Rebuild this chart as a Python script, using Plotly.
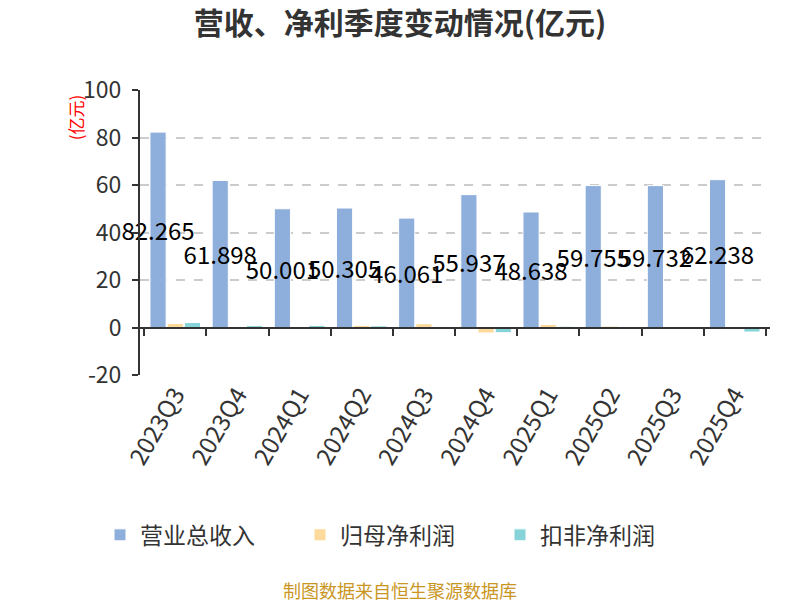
import plotly.graph_objects as go

# === data ===
quarters = ["2023Q3", "2023Q4", "2024Q1", "2024Q2", "2024Q3",
            "2024Q4", "2025Q1", "2025Q2", "2025Q3", "2025Q4"]
revenue = [82.265, 61.898, 50.001, 50.305, 46.061,
           55.937, 48.638, 59.755, 59.732, 62.238]
net_profit = [1.7, 0.4, 0.4, 0.9, 1.6, -2.3, 1.3, 0.6, 0.2, -0.7]
net_profit_deducted = [2.1, 0.8, 0.9, 0.7, 0.3, -2.2, 0.5, 0.4, 0.2, -1.9]
y_ticks = [-20, 0, 20, 40, 60, 80, 100]
y_tick_labels = ["-20", "0", "20", "40", "60", "80", "100"]

font_cn = "Noto Sans CJK SC"
center_x = (392 - 132) / 630  # 整个画布的水平中心（相对绘图区）

fig = go.Figure()

# === bars ===
fig.add_trace(go.Bar(
    x=quarters, y=revenue, name="营业总收入",
    marker=dict(color="#8eaedb", line=dict(color="#ffffff", width=1)),
    text=[f"{v:.3f}" for v in revenue],
    textposition="inside", insidetextanchor="middle", textangle=0,
    constraintext="none", cliponaxis=False,
    textfont=dict(size=24, color="#000000", family=font_cn),
))
fig.add_trace(go.Bar(
    x=quarters, y=net_profit, name="归母净利润",
    marker=dict(color="#fdd99b", line=dict(color="#ffffff", width=1)),
))
fig.add_trace(go.Bar(
    x=quarters, y=net_profit_deducted, name="扣非净利润",
    marker=dict(color="#86d4d8", line=dict(color="#ffffff", width=1)),
))

# 辅助轴：零线上的刻度
fig.add_trace(go.Scatter(
    x=quarters, y=revenue, xaxis="x2", mode="markers",
    marker=dict(opacity=0), showlegend=False, hoverinfo="skip",
))

# 页面 body 有 8px 外边距，整体向左上收 8px
fig.update_layout(
    width=800, height=600,
    paper_bgcolor="white", plot_bgcolor="white",
    font=dict(family=font_cn, color="#333333"),
    title=dict(text="<b>营收、净利季度变动情况(亿元)</b>", x=(400 - 8) / 800,
               y=0.975, xanchor="center", yanchor="middle",
               font=dict(size=30, color="#333333")),
    margin=dict(l=132, r=38, t=82, b=233, autoexpand=False),
    barmode="group", bargap=0.17, bargroupgap=0.06,
    uniformtext=dict(minsize=24, mode="show"),
    xaxis=dict(
        type="category", showline=False, ticks="", showgrid=False,
        tickangle=-60, tickfont=dict(size=24, color="#333333"),
        automargin=False,
    ),
    xaxis2=dict(
        type="category", overlaying="x", anchor="free", position=20 / 120,
        matches="x", showline=True, linecolor="#333333", linewidth=2,
        ticks="outside", ticklen=7, tickcolor="#333333", tickwidth=2,
        tickson="boundaries", showticklabels=False, showgrid=False,
    ),
    yaxis=dict(
        range=[-20, 100], tickvals=y_ticks, ticktext=y_tick_labels,
        showline=True, linecolor="#333333",
        linewidth=2, ticks="outside", ticklen=6, tickcolor="#333333",
        tickwidth=2, tickfont=dict(size=23, color="#333333"),
        ticklabelstandoff=6,
        showgrid=True, gridcolor="#cccccc", griddash="dash", gridwidth=1.5,
        zeroline=False, automargin=False,
    ),
    legend=dict(
        orientation="h", x=center_x, xanchor="center", y=-0.561,
        yanchor="middle", font=dict(size=23, color="#333333"),
        entrywidth=155, entrywidthmode="pixels",
    ),
    annotations=[
        dict(text="(亿元)", textangle=-90, x=-0.103, y=0.905, xref="paper",
             yref="paper", xanchor="center", yanchor="middle",
             showarrow=False, font=dict(size=17, color="red")),
        dict(text="制图数据来自恒生聚源数据库", x=center_x, y=-0.754,
             xref="paper", yref="paper", xanchor="center", yanchor="middle",
             showarrow=False, font=dict(size=18, color="#c9961f")),
    ],
)

fig.write_html("out.html")
